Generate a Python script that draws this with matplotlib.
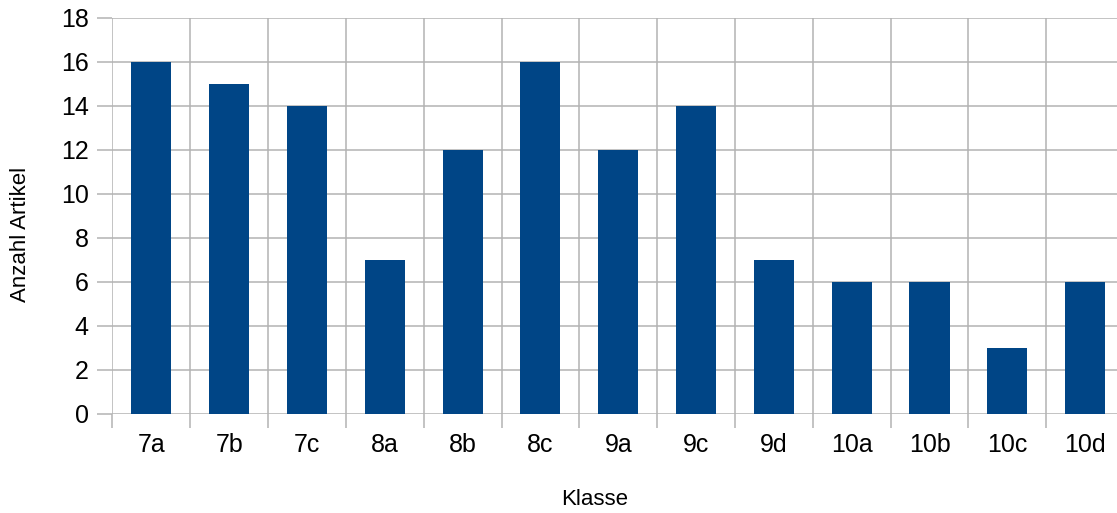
import numpy as np
import matplotlib.pyplot as plt
from matplotlib.ticker import FixedLocator

plt.rcParams['font.family'] = ['Liberation Sans', 'DejaVu Sans']

# data
klassen = ["7a", "7b", "7c", "8a", "8b", "8c", "9a", "9c", "9d", "10a", "10b", "10c", "10d"]
artikel = [16, 15, 14, 7, 12, 16, 12, 14, 7, 6, 6, 3, 6]

grid_col = "#b3b3b3"
bar_col = "#004586"

fig = plt.figure(figsize=(11.17, 5.13), dpi=100)
# the plot area runs slightly past the right edge of the image (as in the original)
ax = fig.add_axes([0.1007, 0.193, 0.9056, 0.772])

x = np.arange(len(klassen))
ax.bar(x, artikel, width=0.515, color=bar_col, zorder=3)

ax.set_xlim(-0.5, len(klassen) - 0.5)
ax.set_ylim(0, 18)
ax.set_yticks(np.arange(0, 19, 2))

# category boundaries as major ticks (grid), labels at centres as minor ticks
ax.xaxis.set_major_locator(FixedLocator(np.arange(-0.5, len(klassen), 1)))
ax.xaxis.set_minor_locator(FixedLocator(x))
ax.set_xticklabels([], minor=False)
ax.set_xticklabels(klassen, minor=True)

ax.grid(True, which="major", color=grid_col, linewidth=1.1, zorder=0)
for s in ax.spines.values():
    s.set_visible(False)

ax.tick_params(axis="x", which="major", length=10, color=grid_col, width=1.1)
ax.tick_params(axis="x", which="minor", length=0, pad=14, labelsize=18)
ax.tick_params(axis="y", length=11, color=grid_col, width=1.1, pad=6, labelsize=18)

ax.set_xlabel("Klasse", fontsize=16, va="center", ha="center")
ax.set_ylabel("Anzahl Artikel", fontsize=16, va="center", ha="center")
ax.xaxis.set_label_coords(0.477, -0.217)
ax.yaxis.set_label_coords(-0.0914, 0.4545)

fig.savefig("out.png", dpi=100)
